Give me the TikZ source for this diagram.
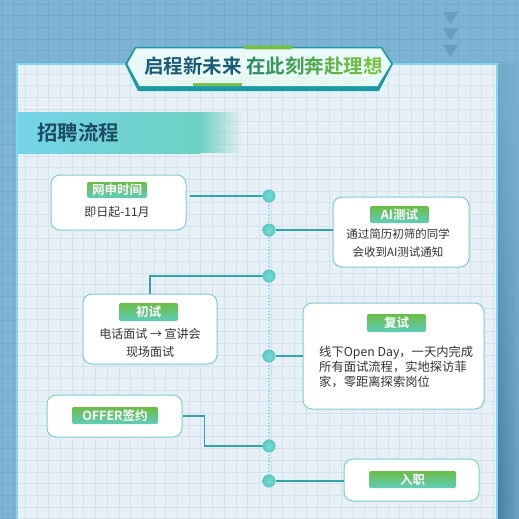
\documentclass[tikz,border=0pt]{standalone}
\usepackage{fontspec}
\setmainfont{Noto Sans CJK SC}[BoldFont={Noto Sans CJK SC Bold}]
\usetikzlibrary{fadings,patterns,calc}
\definecolor{bg}{HTML}{7DB4D4}
\definecolor{bggrid}{HTML}{73AACB}
\definecolor{tri}{HTML}{6A9EC0}
\definecolor{shadowc}{HTML}{4880A2}
\definecolor{shadowr}{HTML}{6A9FC0}
\definecolor{panelfill}{HTML}{E6F0F6}
\definecolor{panelgrid}{HTML}{D5E2EB}
\definecolor{panelborder}{HTML}{80D8EC}
\definecolor{bannerteal}{HTML}{1A99A2}
\definecolor{bannerfill}{HTML}{E9FAF8}
\definecolor{accent}{HTML}{74BF46}
\definecolor{dotgreen}{HTML}{B5E29A}
\definecolor{titledark}{HTML}{1B5B78}
\definecolor{hdrL}{HTML}{74D4E8}
\definecolor{hdrR}{HTML}{6DD2C3}
\definecolor{hdrtext}{HTML}{1E4B66}
\definecolor{boxborder}{HTML}{7ECBD2}
\definecolor{pillTop}{HTML}{6ABD44}
\definecolor{pillBot}{HTML}{5FCDBB}
\definecolor{bodytext}{HTML}{333333}
\definecolor{conn}{HTML}{33A2AA}
\definecolor{vline}{HTML}{79D5EA}
\definecolor{dotin}{HTML}{7ADBD4}
\definecolor{dotout}{HTML}{55C8C1}
\begin{document}
\begin{tikzpicture}[x=1pt,y=-1pt,
  box/.style={draw=boxborder, fill=white, rounded corners=9pt, line width=1pt, inner sep=0pt},
  pill/.style={rounded corners=2pt, top color=pillTop, bottom color=pillBot, text=white,
    font=\bfseries\fontsize{12.5}{14}\selectfont, inner sep=0pt},
  body/.style={text=bodytext, inner sep=0pt},
  tdot/.style={circle, minimum size=13pt, inner sep=0pt, inner color=dotin, outer color=dotout},
  connline/.style={draw=conn, line width=1.2pt},
]
\useasboundingbox (0,0) rectangle (519,519);
% background
\fill[bg] (0,0) rectangle (519,519);
\foreach \i in {0,...,44} {
  \draw[bggrid, line width=0.8pt] ({2+11.7*\i},0) -- ({2+11.7*\i},519);
  \draw[bggrid, line width=0.8pt] (0,{4+11.7*\i}) -- (519,{4+11.7*\i});
}
% triangles
\foreach \t in {12,28.5,45} {
  \fill[tri] (443,\t) -- (458,\t) -- (450.5,\t+12) -- cycle;
}
% right shadow: plain fills, darker near the panel and towards the bottom
\foreach \r in {0,...,23} {
  \foreach \c in {0,...,7} {
    \pgfmathtruncatemacro{\a}{100-100*\c/7}
    \pgfmathtruncatemacro{\p}{20+80*\r/23}
    \colorlet{shA}{shadowc!\a!shadowr}
    \colorlet{shB}{shA!\p!bg}
    \fill[shB] ({497+2.75*\c},{64+19*\r}) rectangle ({497+2.75*(\c+1)+0.4},{64+19*(\r+1)+0.4});
  }
}
% panel
\fill[panelfill] (17,64) rectangle (497,519);
\begin{scope}
\clip (17,64) rectangle (497,519);
\foreach \i in {0,...,44} {
  \draw[panelgrid, line width=1pt] ({2+11.7*\i},0) -- ({2+11.7*\i},519);
  \draw[panelgrid, line width=1pt] (0,{4+11.7*\i}) -- (519,{4+11.7*\i});
}
\end{scope}
\draw[panelborder, line width=2.2pt] (17,520) -- (17,64) -- (497,64) -- (497,520);
% banner
\fill[bannerteal] (125,64) -- (135,47) -- (382,47) -- (393,64) -- (379,91) -- (138,91) -- cycle;
\fill[bannerfill] (127.5,64) -- (136,48.5) -- (381,48.5) -- (391,64) -- (377.5,86) -- (139.5,86) -- cycle;
\fill[accent] (243,45.5) -- (293,45.5) -- (291,49.5) -- (245,49.5) -- cycle;
\fill[accent] (193,83) rectangle (242,86);
\fill[pattern=dots, pattern color=dotgreen] (143,77) rectangle (367,84);
\node[anchor=west, inner sep=0pt, text=titledark, font=\bfseries\fontsize{19.5}{20}\selectfont] (t1) at (144,66.5) {启程新未来};
\node[anchor=east, inner sep=0pt, font=\bfseries\fontsize{19.5}{20}\selectfont] (t2) at (383,66.5)
  {\textcolor[HTML]{2C8C64}{在}\textcolor[HTML]{389759}{此}\textcolor[HTML]{44A052}{刻}\textcolor[HTML]{52AA4C}{奔}\textcolor[HTML]{5FB347}{赴}\textcolor[HTML]{6BBB44}{理}\textcolor[HTML]{77C242}{想}};
% header band
\draw[white, opacity=0.7, line width=0.8pt, path fading=east] (22,112) -- (22,107) -- (232,107);
\fill[left color=hdrL, right color=hdrR] (17,112) rectangle (200,153);
\fill[hdrR, path fading=east] (199.5,112) rectangle (242,153);
\node[anchor=west, inner sep=0pt, text=hdrtext, font=\bfseries\fontsize{20.5}{22}\selectfont] (hdr) at (37,132.5) {招聘流程};
% timeline
\coordinate (vtop) at (269,196);
\coordinate (vbot) at (269,481);
\draw[vline, line width=1.9pt, line cap=round, dash pattern=on 0pt off 3.2pt] (vtop) -- (vbot);
% boxes
\node[box, minimum width=135pt, minimum height=55pt] (b1) at (118.5,202.5) {};
\node[box, minimum width=136pt, minimum height=70pt] (b2) at (401,232) {};
\node[box, minimum width=134pt, minimum height=70pt] (b3) at (150,329) {};
\node[box, minimum width=181pt, minimum height=106pt] (b4) at (393.5,356) {};
\node[box, minimum width=135pt, minimum height=42pt] (b5) at (114.5,416) {};
\node[box, minimum width=135pt, minimum height=42pt] (b6) at (411.5,480) {};
% pills
\node[pill, minimum width=60pt, minimum height=16pt] (p1) at (117,190) {网申时间};
\node[pill, minimum width=59pt, minimum height=17pt] (p2) at (399.5,214.5) {AI测试};
\node[pill, minimum width=59pt, minimum height=18pt] (p3) at (148.5,312) {初试};
\node[pill, minimum width=59pt, minimum height=18pt] (p4) at (396.5,323) {复试};
\node[pill, minimum width=86pt, minimum height=17pt] (p5) at (115,415.5) {OFFER签约};
\node[pill, minimum width=87pt, minimum height=17pt] (p6) at (412.5,479.5) {入职};
% body texts
\node[body, font=\fontsize{12}{15}\selectfont] (x1) at (117,211.5) {即日起-11月};
\node[body, align=center, font=\fontsize{11.5}{18}\selectfont] (x2) at (398,243.5) {通过简历初筛的同学\\会收到AI测试通知};
\node[body, align=center, font=\fontsize{12}{18}\selectfont] (x3) at (150,342.5) {电话面试 → 宣讲会\\现场面试};
\node[body, anchor=west, align=left, font=\fontsize{12.3}{15}\selectfont] (x4) at (319,366.5) {线下Open Day，一天内完成\\所有面试流程，实地探访菲\\家，零距离探索岗位};
% timeline dots
\node[tdot] (c1) at (269,196) {};
\node[tdot] (c2) at (269,230) {};
\node[tdot] (c3) at (269,276) {};
\node[tdot] (c4) at (269,356) {};
\node[tdot] (c5) at (269,446) {};
\node[tdot] (c6) at (269,481) {};
% connectors
\draw[connline] ([xshift=3pt]b1.east |- c1) -- (c1.west);
\draw[connline] (c2.east) -- (b2.west |- c2);
\draw[connline] (c3.west) -| (b3.north);
\draw[connline] (c4.east) -- (b4.west |- c4);
\draw[connline] (b5.east) -- ++(22,0) |- (c5.west);
\draw[connline] (c6.east) -- (b6.west |- c6);
\end{tikzpicture}
\end{document}
